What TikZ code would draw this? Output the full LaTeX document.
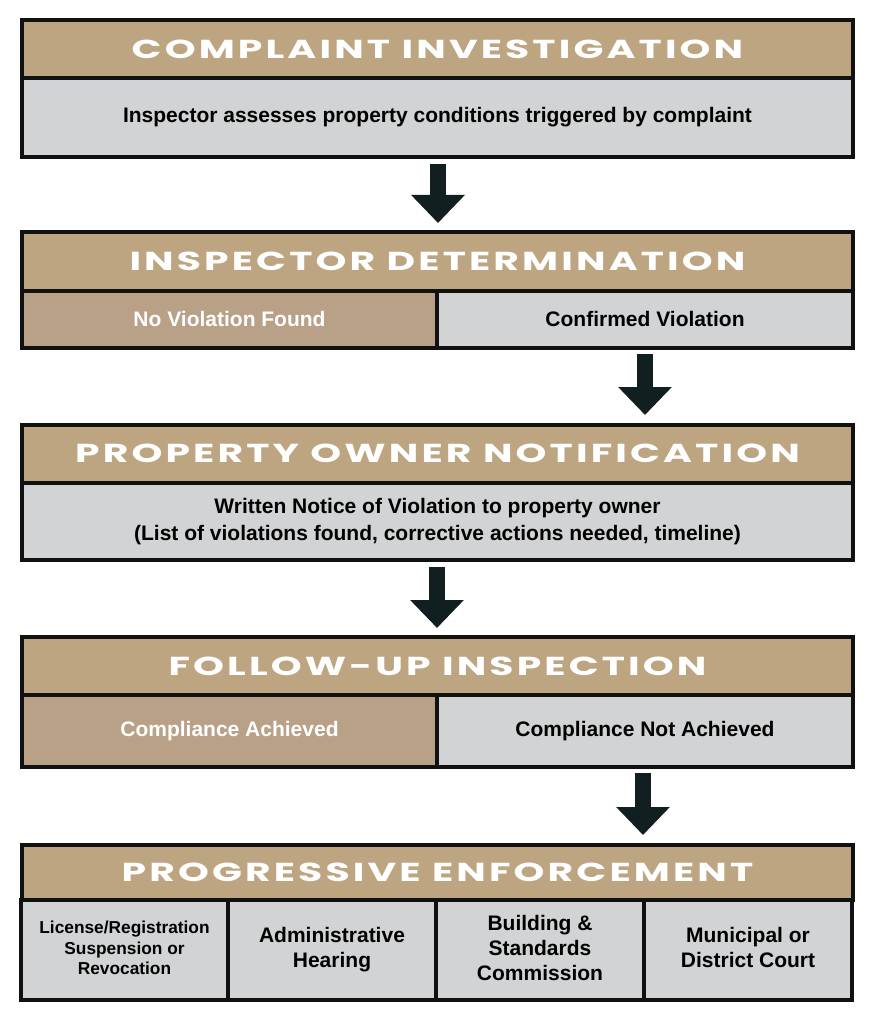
\documentclass[tikz,border=0pt]{standalone}
\usepackage{fontspec}
\setmainfont{Liberation Sans}
\newfontfamily\hfont{Poppins}[LetterSpace=8]
\usetikzlibrary{arrows.meta,calc}
\definecolor{tanh}{HTML}{BEA581}
\definecolor{tanc}{HTML}{B9A188}
\definecolor{grayc}{HTML}{D1D3D4}
\definecolor{arrc}{HTML}{121F21}
\definecolor{linec}{HTML}{111111}
\newcommand{\htext}[1]{\scalebox{1.51}[1]{\hfont\bfseries\fontsize{26}{26}\selectfont #1}}
\begin{document}
\begin{tikzpicture}[x=1pt,y=-1pt,
  box/.style={draw=linec, line width=4pt, rectangle, inner sep=0pt, outer sep=0pt, align=center,
    font=\bfseries\fontsize{21}{27}\selectfont},
  hdr/.style={box, fill=tanh, text=white, minimum width=831pt},
  graycell/.style={box, fill=grayc, text=black},
  tancell/.style={box, fill=tanc, text=white},
  arr/.style={draw=arrc, line width=16pt, -{Triangle[width=52pt,length=28pt]}}]
\useasboundingbox (0,0) rectangle (875,1024);
% Box 1
\node[hdr, minimum height=57.5pt] (h1) at (437.5,49.25) {\htext{COMPLAINT INVESTIGATION}};
\node[graycell, minimum width=831pt, minimum height=79pt] (b1) at (437.5,117.5)
  {\raisebox{-2.5pt}{Inspector assesses property conditions triggered by complaint}};
% Box 2
\node[hdr, minimum height=58.5pt] (h2) at (437.5,261.25) {\htext{INSPECTOR DETERMINATION}};
\node[tancell, minimum width=415pt, minimum height=57.5pt] (nv) at (229.5,319.25) {No Violation Found};
\node[graycell, minimum width=416pt, minimum height=57.5pt] (cv) at (645,319.25) {Confirmed Violation};
% Box 3
\node[hdr, minimum height=58pt] (h3) at (437.5,453.5) {\htext{PROPERTY OWNER NOTIFICATION}};
\node[graycell, minimum width=831pt, minimum height=77.5pt] (b3) at (437.5,521.25)
  {Written Notice of Violation to property owner\\(List of violations found, corrective actions needed, timeline)};
% Box 4
\node[hdr, minimum height=58pt] (h4) at (437.5,666) {\htext{FOLLOW-UP INSPECTION}};
\node[tancell, minimum width=415pt, minimum height=72pt] (ca) at (229.5,731) {Compliance Achieved};
\node[graycell, minimum width=416pt, minimum height=72pt] (cn) at (645,731) {Compliance Not Achieved};
% Box 5
\node[hdr, minimum height=55pt] (h5) at (437.5,872.5) {\htext{PROGRESSIVE ENFORCEMENT}};
\node[graycell, minimum width=207pt, minimum height=100pt, font=\bfseries\fontsize{17.3}{20.5}\selectfont] (e1) at (124.5,950)
  {\raisebox{4pt}{\begin{tabular}{@{}c@{}}License/Registration\\Suspension or\\Revocation\end{tabular}}};
\node[graycell, minimum width=208pt, minimum height=100pt, font=\bfseries\fontsize{21}{25}\selectfont] (e2) at (332,950)
  {\raisebox{-1pt}{\begin{tabular}{@{}c@{}}Administrative\\Hearing\end{tabular}}};
\node[graycell, minimum width=208pt, minimum height=100pt, font=\bfseries\fontsize{21}{25}\selectfont] (e3) at (540,950)
  {\raisebox{1.5pt}{\begin{tabular}{@{}c@{}}Building \&\\Standards\\Commission\end{tabular}}};
\node[graycell, minimum width=208pt, minimum height=100pt, font=\bfseries\fontsize{21}{25}\selectfont] (e4) at (748,950)
  {\raisebox{-1pt}{\begin{tabular}{@{}c@{}}Municipal or\\District Court\end{tabular}}};
% Arrows
\coordinate (a1s) at ($(b1.south)+(0.5,7)$);
\coordinate (a1e) at ($(h2.north)+(0.5,-9)$);
\draw[arr] (a1s) -- (a1e);
\coordinate (a2s) at ($(cv.south)+(0,6)$);
\coordinate (a2e) at ($(cv.south |- h3.north)+(0,-9.5)$);
\draw[arr] (a2s) -- (a2e);
\coordinate (a3s) at ($(b3.south)+(-0.5,7)$);
\coordinate (a3e) at ($(b3.south |- h4.north)+(-0.5,-9)$);
\draw[arr] (a3s) -- (a3e);
\coordinate (a4s) at ($(cn.south)+(-2,6)$);
\coordinate (a4e) at ($(cn.south |- h5.north)+(-2,-10)$);
\draw[arr] (a4s) -- (a4e);
\end{tikzpicture}
\end{document}
